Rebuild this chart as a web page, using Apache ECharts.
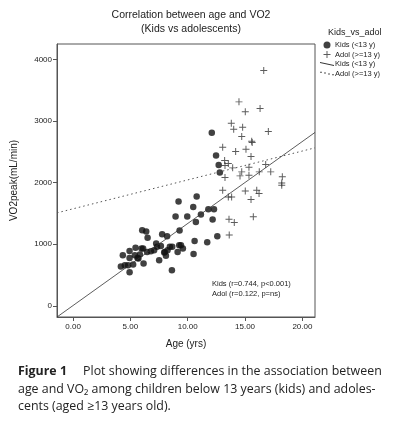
<!DOCTYPE html>
<html>
<head>
<meta charset="utf-8">
<script src="https://cdn.jsdelivr.net/npm/echarts@6/dist/echarts.min.js"></script>
<style>
  html, body { margin: 0; padding: 0; background: #fff; }
  #chart { width: 398px; height: 429px; }
</style>
</head>
<body>
<div id="chart"></div>
<script>
// values
const ageTicks = [0, 5, 10, 15, 20]
const vo2Ticks = [0, 1000, 2000, 3000, 4000]

const kidsAge = [4.17, 4.34, 4.52, 4.8, 4.93, 4.93, 4.93, 5.24, 5.39, 5.45, 5.62, 5.7, 5.83, 5.97, 6.03, 6.11,
  6.15, 6.38, 6.46, 6.5, 6.79, 7.07, 7.25, 7.33, 7.51, 7.66, 7.77, 7.95, 8.0, 8.1, 8.2, 8.24, 8.44, 8.62,
  8.65, 8.94, 9.12, 9.2, 9.26, 9.29, 9.41, 9.58, 9.96, 10.48, 10.51, 10.6, 10.71, 10.78, 11.15, 11.7, 11.8,
  12.1, 12.17, 12.29, 12.47, 12.58, 12.7, 12.8]
const kidsVo2 = [640, 823, 660, 660, 893, 779, 545, 672, 823, 945, 779, 770, 834, 931, 1229, 931,
  690, 1207, 876, 1104, 888, 904, 1013, 958, 742, 974, 1164, 866, 876, 812, 1131, 904, 958, 579,
  958, 1451, 876, 1694, 985, 1224, 985, 931, 1451, 1607, 844, 1055, 1363, 1776, 1483, 1034, 1569,
  2810, 1402, 1569, 2440, 1131, 2285, 2165]

const adolAge = [16.63, 14.47, 16.31, 15.02, 13.8, 14.79, 14.01, 17.03, 14.71, 15.58, 15.62, 13.05, 14.18,
  15.08, 15.52, 13.22, 13.54, 13.25, 13.92, 15.34, 16.8, 13.25, 14.71, 14.56, 15.34, 16.24, 17.24, 18.25,
  18.2, 18.2, 13.05, 15.02, 16.02, 16.22, 13.54, 13.83, 15.52, 13.6, 14.06, 15.72, 13.62]
const adolVo2 = [3820, 3311, 3204, 3149, 2965, 2900, 2868, 2830, 2749, 2673, 2650, 2576, 2506,
  2543, 2424, 2360, 2311, 2280, 2240, 2250, 2295, 2084, 2175, 2110, 2121, 2175, 2175, 2094,
  1996, 1959, 1878, 1866, 1878, 1824, 1769, 1769, 1727, 1407, 1354, 1445, 1152]

// fit lines, drawn across the whole x range
const fitAge = [-1.4, 21.1]
const kidsFitVo2 = [-180, 2815]
const adolFitVo2 = [1510, 2565]

const legendLabels = {
  kidsDots: 'Kids (<13 y)',
  adolDots: 'Adol (>=13 y)',
  kidsFit: 'Kids (<13 y)',
  adolFit: 'Adol (>=13 y)'
}

const zip = (xs, ys) => xs.map((x, i) => [x, ys[i]])
const plusPath = 'path://M4.3,0H5.7V4.3H10V5.7H5.7V10H4.3V5.7H0V4.3H4.3Z'
const solidIcon = 'path://M0,2.6L14,5.6L14,6.6L0,3.6Z'
const dashIcon = 'path://M0,2.6h2v1h-2zM4,3.4h2v1h-2zM8,4.2h2v1h-2zM12,5h2v1h-2z'
const font = 'Liberation Sans, Arial, sans-serif'
const capFont = 'Open Sans, Noto Sans, sans-serif'

const chart = echarts.init(document.getElementById('chart'), null, { renderer: 'canvas' })
chart.setOption({
  backgroundColor: '#fff',
  animation: false,
  textStyle: { fontFamily: font },
  title: {
    text: 'Correlation between age and VO2\n(Kids vs adolescents)',
    left: 186,
    top: 3,
    textAlign: 'center',
    textStyle: { fontSize: 10.5, fontWeight: 'normal', color: '#222', lineHeight: 14, fontFamily: font }
  },
  legend: {
    orient: 'vertical',
    left: 320,
    top: 41,
    padding: 0,
    itemWidth: 14,
    itemHeight: 7,
    itemGap: 1.5,
    data: [
      { name: 'kidsDots', icon: 'circle' },
      { name: 'adolDots', icon: plusPath },
      { name: 'kidsFit', icon: solidIcon },
      { name: 'adolFit', icon: dashIcon }
    ],
    formatter: name => legendLabels[name],
    textStyle: { fontSize: 7.5, color: '#222', padding: [0, 0, 0, -4] }
  },
  grid: {
    left: 57,
    top: 44,
    width: 258,
    height: 273,
    show: true,
    borderColor: '#555',
    borderWidth: 1
  },
  xAxis: {
    type: 'value',
    min: -1.4,
    max: 21.1,
    name: 'Age (yrs)',
    nameLocation: 'middle',
    nameGap: 22,
    nameTextStyle: { fontSize: 10, color: '#222' },
    axisLine: { show: true, onZero: false, lineStyle: { color: '#555' } },
    axisTick: { show: true, length: 4, customValues: ageTicks, lineStyle: { color: '#555' } },
    axisLabel: {
      customValues: ageTicks,
      formatter: v => v.toFixed(2),
      fontSize: 8,
      color: '#222',
      margin: 6
    },
    splitLine: { show: false }
  },
  yAxis: {
    type: 'value',
    min: -180,
    max: 4250,
    name: 'VO2peak(mL/min)',
    nameLocation: 'middle',
    nameGap: 38,
    nameTextStyle: { fontSize: 10, color: '#222' },
    axisLine: { show: true, onZero: false, lineStyle: { color: '#555' } },
    axisTick: { show: true, length: 4, customValues: vo2Ticks, lineStyle: { color: '#555' } },
    axisLabel: { customValues: vo2Ticks, formatter: v => String(v), fontSize: 8, color: '#222', margin: 5 },
    splitLine: { show: false }
  },
  series: [
    {
      name: 'kidsDots',
      type: 'scatter',
      symbol: 'circle',
      symbolSize: 6.5,
      itemStyle: { color: '#111' },
      data: zip(kidsAge, kidsVo2),
      z: 3
    },
    {
      name: 'adolDots',
      type: 'scatter',
      symbol: plusPath,
      symbolSize: 7,
      itemStyle: { color: '#333' },
      data: zip(adolAge, adolVo2),
      z: 3
    },
    {
      name: 'kidsFit',
      type: 'line',
      symbol: 'none',
      lineStyle: { color: '#333', width: 0.8 },
      itemStyle: { color: '#333' },
      data: zip(fitAge, kidsFitVo2),
      z: 4
    },
    {
      name: 'adolFit',
      type: 'line',
      symbol: 'none',
      lineStyle: { color: '#555', width: 1, type: [1.5, 3] },
      itemStyle: { color: '#555' },
      data: zip(fitAge, adolFitVo2),
      z: 4
    }
  ],
  graphic: [
    {
      type: 'text',
      left: 328,
      top: 28,
      style: { text: 'Kids_vs_adol', fontSize: 9, fill: '#222', fontFamily: font }
    },
    {
      type: 'text',
      left: 212,
      top: 279,
      style: {
        text: 'Kids (r=0.744, p<0.001)\nAdol (r=0.122, p=ns)',
        fontSize: 7.5,
        lineHeight: 10,
        fill: '#222',
        fontFamily: font
      }
    },
    {
      type: 'text',
      left: 18,
      top: 363,
      style: {
        text: '{b|Figure 1}     Plot showing differences in the association between\nage and VO₂ among children below 13 years (kids) and adoles-\ncents (aged ≥13 years old).',
        fontSize: 12.4,
        lineHeight: 17.5,
        fill: '#222',
        fontFamily: capFont,
        rich: {
          b: { fontWeight: 'bold', fontSize: 12.4, fontFamily: capFont, fill: '#222' }
        }
      }
    }
  ]
})
</script>
</body>
</html>
